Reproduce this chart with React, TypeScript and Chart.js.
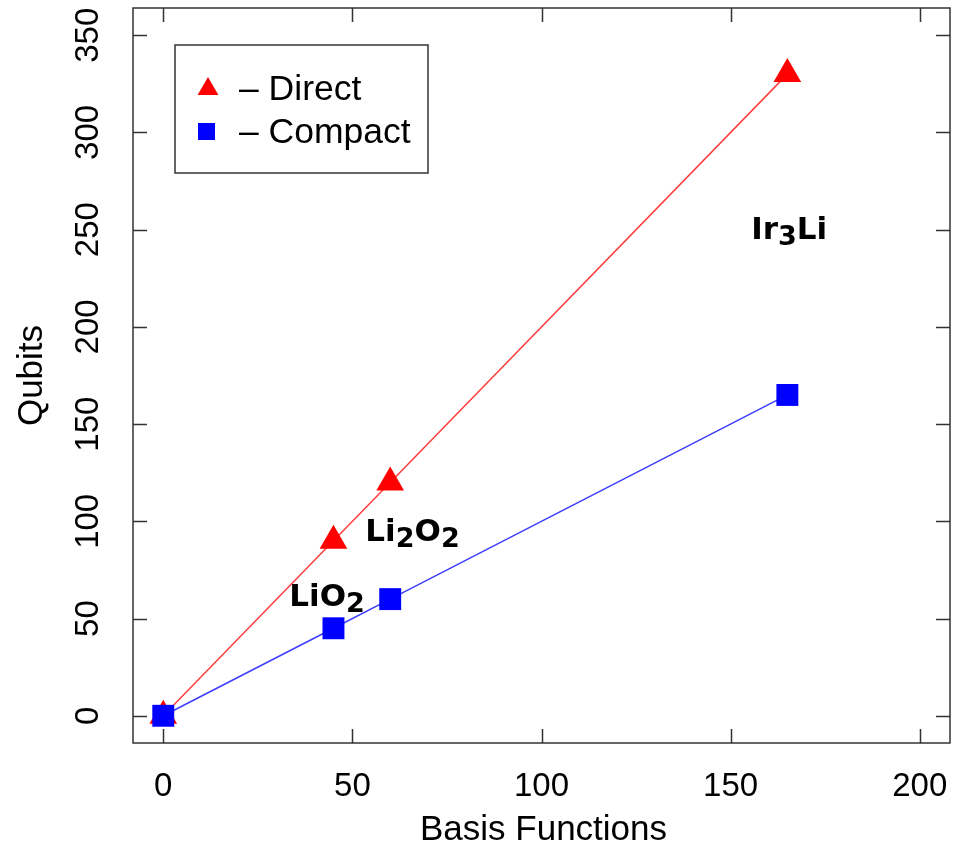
import React, { useEffect, useRef } from "react";
import { Chart, registerables } from "chart.js";

Chart.register(...registerables);

const basisFunctions = [0, 45, 60, 165];
const directQubits = [0, 90, 120, 330];
const compactQubits = [0, 45, 60, 165];
const xTickValues = [0, 50, 100, 150, 200];
const yTickValues = [0, 50, 100, 150, 200, 250, 300, 350];
const xRange = [-8, 208];
const yRange = [-14, 364];
const xTitle = "Basis Functions";
const yTitle = "Qubits";
const legendLabels = ["\u2013 Direct", "\u2013 Compact"];

type Seg = { t: string; sub?: boolean };
const moleculeLabels: { x: number; y: number; parts: Seg[] }[] = [
  { x: 43.3, y: 56.6, parts: [{ t: "Li" }, { t: "O" }, { t: "2", sub: true }] },
  { x: 65.9, y: 89.7, parts: [{ t: "Li" }, { t: "2", sub: true }, { t: "O" }, { t: "2", sub: true }] },
  { x: 165.5, y: 245.3, parts: [{ t: "Ir" }, { t: "3", sub: true }, { t: "Li" }] },
];

const RED = "#ff0000";
const BLUE = "#0000ff";
const AXIS = "#333333";
const SANS = '"Liberation Sans", Arial, Helvetica, sans-serif';
const BOLD = 'bold 31px "DejaVu Sans", sans-serif';
const BOLD_SUB = 'bold 27px "DejaVu Sans", sans-serif';

const framePlugin = {
  id: "rframe",
  afterDatasetsDraw(chart: any) {
    const { ctx, scales } = chart;
    const xs = scales.x;
    const ys = scales.y;
    ctx.save();
    ctx.fillStyle = "#000";
    ctx.textBaseline = "alphabetic";
    ctx.textAlign = "left";
    for (const lab of moleculeLabels) {
      let w = 0;
      for (const p of lab.parts) {
        ctx.font = p.sub ? BOLD_SUB : BOLD;
        w += ctx.measureText(p.t).width;
      }
      let px = xs.getPixelForValue(lab.x) - w / 2;
      const py = ys.getPixelForValue(lab.y);
      for (const p of lab.parts) {
        ctx.font = p.sub ? BOLD_SUB : BOLD;
        ctx.fillText(p.t, px, py + (p.sub ? 6 : 0));
        px += ctx.measureText(p.t).width;
      }
    }
    ctx.restore();
  },
  afterDraw(chart: any) {
    const { ctx, chartArea: a, scales } = chart;
    const xs = scales.x;
    const ys = scales.y;
    const tl = 14;
    ctx.save();
    ctx.strokeStyle = AXIS;
    ctx.lineWidth = 1.5;
    ctx.strokeRect(a.left, a.top, a.right - a.left, a.bottom - a.top);
    ctx.beginPath();
    for (const v of xTickValues) {
      const px = Math.round(xs.getPixelForValue(v)) + 0.5;
      ctx.moveTo(px, a.bottom);
      ctx.lineTo(px, a.bottom - tl);
      ctx.moveTo(px, a.top);
      ctx.lineTo(px, a.top + tl);
    }
    for (const v of yTickValues) {
      const py = Math.round(ys.getPixelForValue(v)) + 0.5;
      ctx.moveTo(a.left, py);
      ctx.lineTo(a.left + tl, py);
      ctx.moveTo(a.right, py);
      ctx.lineTo(a.right - tl, py);
    }
    ctx.stroke();

    ctx.fillStyle = "#000";
    ctx.font = `33px ${SANS}`;
    ctx.textAlign = "center";
    ctx.textBaseline = "alphabetic";
    for (const v of xTickValues) {
      ctx.fillText(String(v), xs.getPixelForValue(v), a.bottom + 53);
    }
    for (const v of yTickValues) {
      ctx.save();
      ctx.translate(a.left - 35, ys.getPixelForValue(v));
      ctx.rotate(-Math.PI / 2);
      ctx.fillText(String(v), 0, 0);
      ctx.restore();
    }
    ctx.font = `35px ${SANS}`;
    ctx.fillText(xTitle, (a.left + a.right) / 2 + 2, a.bottom + 97);
    ctx.save();
    ctx.translate(a.left - 91, (a.top + a.bottom) / 2);
    ctx.rotate(-Math.PI / 2);
    ctx.fillText(yTitle, 0, 0);
    ctx.restore();

    // legend
    const lx = a.left + 42;
    const ly = a.top + 37;
    ctx.strokeStyle = AXIS;
    ctx.lineWidth = 1.5;
    ctx.strokeRect(lx, ly, 253, 128);
    const tcx = lx + 33;
    const tcy = ly + 44;
    const r = 12;
    ctx.fillStyle = RED;
    ctx.beginPath();
    ctx.moveTo(tcx, tcy - r);
    ctx.lineTo(tcx + r * Math.sin((2 * Math.PI) / 3), tcy - r * Math.cos((2 * Math.PI) / 3));
    ctx.lineTo(tcx - r * Math.sin((2 * Math.PI) / 3), tcy - r * Math.cos((2 * Math.PI) / 3));
    ctx.closePath();
    ctx.fill();
    ctx.fillStyle = BLUE;
    ctx.fillRect(lx + 23, ly + 78, 17, 17);
    ctx.fillStyle = "#000";
    ctx.textAlign = "left";
    ctx.font = `35.5px ${SANS}`;
    ctx.fillText(legendLabels[0], lx + 64, ly + 55);
    ctx.fillText(legendLabels[1], lx + 64, ly + 98);
    ctx.restore();
  },
};

export default function App() {
  const ref = useRef<HTMLCanvasElement | null>(null);
  useEffect(() => {
    document.body.style.margin = "0";
    const canvas = ref.current!;
    const chart = new Chart(canvas, {
      type: "scatter",
      data: {
        datasets: [
          {
            label: "Direct",
            data: basisFunctions.map((x, i) => ({ x, y: directQubits[i] })),
            showLine: true,
            borderColor: "rgba(255,40,40,0.9)",
            borderWidth: 1.5,
            backgroundColor: RED,
            pointBackgroundColor: RED,
            pointBorderWidth: 0,
            pointStyle: "triangle",
            pointRadius: 16,
            order: 2,
          },
          {
            label: "Compact",
            data: basisFunctions.map((x, i) => ({ x, y: compactQubits[i] })),
            showLine: true,
            borderColor: "rgba(40,40,255,0.9)",
            borderWidth: 1.5,
            backgroundColor: BLUE,
            pointBackgroundColor: BLUE,
            pointBorderWidth: 0,
            pointStyle: "rect",
            pointRadius: 15.5,
            order: 1,
          },
        ],
      },
      options: {
        animation: false,
        responsive: false,
        layout: { autoPadding: false, padding: { left: 133, top: 8, right: 3, bottom: 110 } },
        scales: {
          x: { type: "linear", min: xRange[0], max: xRange[1], display: false },
          y: { type: "linear", min: yRange[0], max: yRange[1], display: false },
        },
        plugins: { legend: { display: false }, tooltip: { enabled: false } },
      },
      plugins: [framePlugin],
    });
    return () => chart.destroy();
  }, []);
  return <canvas ref={ref} width={953} height={853} style={{ display: "block" }} />;
}
